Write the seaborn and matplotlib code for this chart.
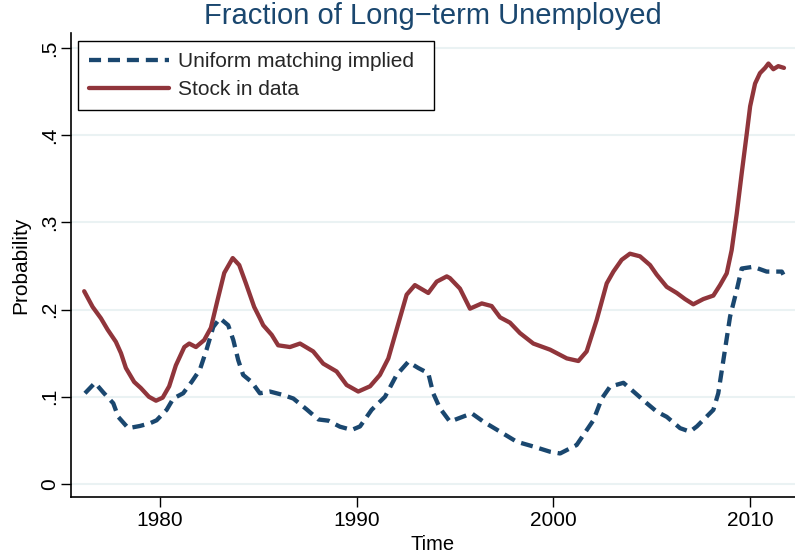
import matplotlib
matplotlib.use("Agg")
import matplotlib.pyplot as plt
import seaborn as sns
import numpy as np
import pandas as pd

# ---- data ----
stock_years = [1976.15, 1976.58, 1977.0, 1977.34, 1977.76, 1978.02, 1978.27, 1978.69, 1979.03,
               1979.44, 1979.80, 1980.14, 1980.47, 1980.81, 1981.24, 1981.49, 1981.83, 1982.25,
               1982.59, 1982.93, 1983.27, 1983.70, 1984.03, 1984.37, 1984.79, 1985.08, 1985.25,
               1985.68, 1986.01, 1986.61, 1987.12, 1987.79, 1988.30, 1988.98, 1989.49, 1990.08,
               1990.68, 1991.18, 1991.61, 1992.03, 1992.54, 1992.96, 1993.64, 1994.07, 1994.58,
               1994.74, 1995.25, 1995.76, 1996.36, 1996.86, 1997.29, 1997.79, 1998.30, 1998.98,
               1999.83, 2000.68, 2001.27, 2001.69, 2002.20, 2002.71, 2003.05, 2003.47, 2003.89,
               2004.40, 2004.91, 2005.25, 2005.76, 2006.27, 2006.69, 2007.11, 2007.62, 2008.13,
               2008.47, 2008.81, 2009.06, 2009.32, 2009.57, 2009.83, 2010.0, 2010.25, 2010.50,
               2010.76, 2010.93, 2011.18, 2011.43, 2011.72]
stock_vals = [0.221, 0.203, 0.190, 0.177, 0.163, 0.150, 0.133, 0.117, 0.110,
              0.100, 0.0955, 0.099, 0.112, 0.136, 0.157, 0.161, 0.157, 0.165,
              0.179, 0.211, 0.242, 0.259, 0.251, 0.230, 0.203, 0.190, 0.182,
              0.171, 0.159, 0.157, 0.161, 0.152, 0.138, 0.129, 0.1135, 0.106,
              0.112, 0.125, 0.144, 0.177, 0.217, 0.228, 0.219, 0.232, 0.238,
              0.236, 0.224, 0.201, 0.207, 0.204, 0.191, 0.185, 0.173, 0.161,
              0.154, 0.144, 0.141, 0.152, 0.188, 0.230, 0.2435, 0.257, 0.264,
              0.261, 0.251, 0.240, 0.226, 0.219, 0.212, 0.206, 0.212, 0.216,
              0.228, 0.2415, 0.268, 0.310, 0.356, 0.402, 0.433, 0.459, 0.471,
              0.477, 0.482, 0.4755, 0.479, 0.477]

unif_years = [1976.19, 1976.70, 1977.12, 1977.63, 1977.88, 1978.39, 1978.98, 1979.49, 1979.83,
              1980.34, 1980.68, 1981.18, 1981.61, 1982.03, 1982.37, 1982.71, 1983.05, 1983.47,
              1983.73, 1983.98, 1984.23, 1984.66, 1985.08, 1985.59, 1986.27, 1986.78, 1987.46,
              1988.05, 1988.56, 1989.15, 1989.75, 1990.17, 1990.76, 1991.44, 1992.03, 1992.62,
              1993.13, 1993.64, 1993.89, 1994.23, 1994.74, 1995.85, 1996.44, 1997.29, 1998.13,
              1998.98, 1999.83, 2000.34, 2001.18, 2002.03, 2002.46, 2002.88, 2003.56, 2004.07,
              2004.75, 2005.25, 2005.76, 2006.44, 2006.94, 2007.29, 2008.13, 2008.38, 2008.64,
              2008.98, 2009.32, 2009.57, 2010.16, 2010.84, 2011.61, 2011.69]
unif_vals = [0.104, 0.116, 0.105, 0.0925, 0.077, 0.064, 0.0665, 0.0696, 0.073,
             0.085, 0.098, 0.104, 0.117, 0.131, 0.154, 0.180, 0.190, 0.182,
             0.165, 0.142, 0.125, 0.117, 0.104, 0.106, 0.102, 0.098, 0.0855,
             0.074, 0.0726, 0.0657, 0.062, 0.066, 0.085, 0.100, 0.125, 0.140,
             0.133, 0.127, 0.104, 0.087, 0.0715, 0.081, 0.0715, 0.060, 0.0485,
             0.043, 0.037, 0.035, 0.0447, 0.073, 0.098, 0.1116, 0.116, 0.106,
             0.0925, 0.083, 0.077, 0.064, 0.060, 0.066, 0.085, 0.104, 0.142,
             0.192, 0.2225, 0.247, 0.249, 0.2435, 0.2435, 0.240]

x_ticks = [1980, 1990, 2000, 2010]
y_ticks = [0, 0.1, 0.2, 0.3, 0.4, 0.5]
y_ticklabels = ["0", ".1", ".2", ".3", ".4", ".5"]

title = "Fraction of Long\u2212term Unemployed"
label_unif = "Uniform matching implied"
label_stock = "Stock in data"

# ---- style ----
sns.set_theme(style="white")
plt.rcParams["font.family"] = ["Liberation Sans", "DejaVu Sans"]

navy = "#1a476f"
maroon = "#90353b"

fig = plt.figure(figsize=(7.95, 5.56), dpi=100)
ax = fig.add_axes([71 / 795, 1 - 497 / 556, 1 - 71 / 795, (497 - 33) / 556])

df_u = pd.DataFrame({"Time": unif_years, "Probability": unif_vals})
df_s = pd.DataFrame({"Time": stock_years, "Probability": stock_vals})

lw = 3.1
sns.lineplot(data=df_u, x="Time", y="Probability", ax=ax, color=navy,
             linewidth=lw, label=label_unif)
ax.lines[-1].set_dashes([2.8, 1.6])
ax.lines[-1].set_dash_capstyle("butt")
sns.lineplot(data=df_s, x="Time", y="Probability", ax=ax, color=maroon,
             linewidth=lw, label=label_stock)

ax.set_xlim(1975.48, 2012.28)
ax.set_ylim(-0.0149, 0.517)

ax.set_yticks(y_ticks)
ax.set_yticklabels(y_ticklabels, rotation=90, va="center")
ax.set_xticks(x_ticks)
ax.set_xticklabels([str(t) for t in x_ticks])

for lab in ax.get_xticklabels() + ax.get_yticklabels():
    lab.set_fontsize(15)
    lab.set_color("black")

ax.tick_params(axis="x", which="major", direction="out", length=7, width=1.0,
               color="black", bottom=True, pad=3)
ax.tick_params(axis="y", which="major", direction="out", length=7, width=1.0,
               color="black", left=True, pad=1.5)

ax.grid(axis="y", color="#eaf2f3", linewidth=1.5)
ax.grid(axis="x", visible=False)
ax.set_axisbelow(True)

for side in ["top", "right"]:
    ax.spines[side].set_visible(False)
for side in ["left", "bottom"]:
    ax.spines[side].set_color("black")
    ax.spines[side].set_linewidth(1.2)

ax.set_xlabel("Time", fontsize=14.5, color="black", labelpad=4)
ax.set_ylabel("Probability", fontsize=15, color="black", labelpad=7)

fig.suptitle(title, x=0.545, y=0.997, va="top", fontsize=21, color=navy)

# legend box: x 78..434 px, y 41..109 px
ax_h = 464.0
ax_w = 724.0
bb = ((78 - 71) / ax_w, (497 - 109) / ax_h, (434 - 78) / ax_w, (109 - 41) / ax_h)
leg = ax.legend(loc="upper left", bbox_to_anchor=bb, mode="expand", frameon=True,
                fancybox=False, fontsize=15, handlelength=3.8, borderaxespad=0.0,
                borderpad=0.55, labelspacing=0.4, handletextpad=0.45)
leg.get_frame().set_edgecolor("black")
leg.get_frame().set_linewidth(1.0)
leg.get_frame().set_alpha(1)

fig.savefig("out.png", dpi=100)
